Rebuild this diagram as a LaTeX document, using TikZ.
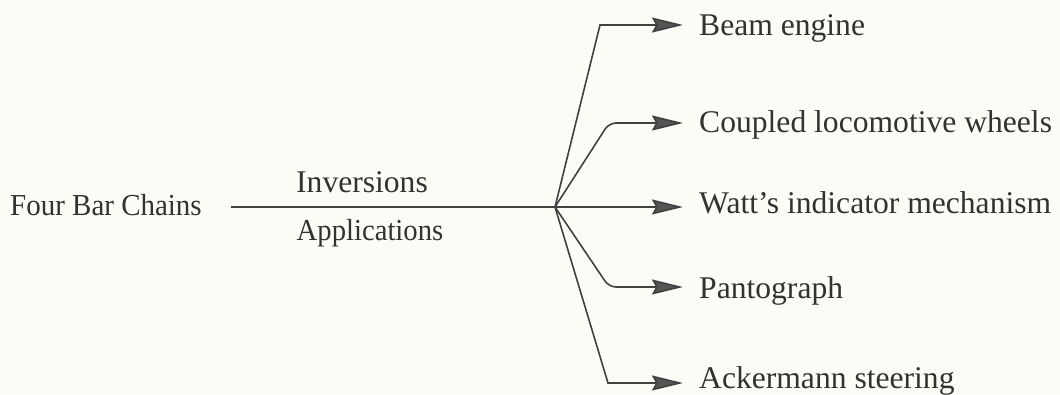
\documentclass[tikz,border=0pt]{standalone}
\usepackage{fontspec}
\setmainfont{Liberation Serif}
\usetikzlibrary{arrows.meta}
\definecolor{paper}{RGB}{252,251,246}
\definecolor{ink}{RGB}{50,50,50}
\definecolor{lineink}{RGB}{65,65,65}
\tikzset{
  lbl/.style={inner sep=0pt, text=ink, font=\fontsize{31.6}{38}\selectfont},
  lblleft/.style={lbl, font=\fontsize{30.5}{36}\selectfont},
  conn/.style={draw=lineink, line width=1.6pt},
  arr/.style={conn, -{Stealth[length=31pt,width=15pt,inset=4pt,fill=lineink!90]}},
}
\begin{document}
\begin{tikzpicture}[x=1pt,y=-1pt]
\fill[paper] (0,0) rectangle (1060,394);
\useasboundingbox (0,0) rectangle (1060,394);

\node[lblleft, anchor=base west] (fb) at (10,215) {\scalebox{0.95}[1]{Four Bar Chains}};
\node[lbl, anchor=base] (inv) at (362,192) {Inversions};
\node[lblleft, anchor=base] (app) at (370,240) {\scalebox{0.94}[1]{Applications}};

\coordinate (start) at (231,207);
\coordinate (hub) at (555,207);

\node[lbl, anchor=base west] (beam) at (699,35) {Beam engine};
\node[lbl, anchor=base west] (coup) at (699,132) {Coupled locomotive wheels};
\node[lbl, anchor=base west] (watt) at (699,213) {Watt’s indicator mechanism};
\node[lbl, anchor=base west] (pant) at (699,298) {Pantograph};
\node[lbl, anchor=base west] (ack) at (699,388) {Ackermann steering};

\coordinate (bBeam) at (600,25);
\coordinate (bCoup) at (609,123);
\coordinate (bPant) at (609,287);
\coordinate (bAck) at (608,383);

\path[conn] (start) -- (hub);
\draw[arr] (hub) -- (bBeam) -- ([xshift=-16pt]bBeam -| beam.west);
\draw[arr, rounded corners=7pt] (hub) -- (bCoup) -- ([xshift=-16pt]bCoup -| coup.west);
\draw[arr] (hub) -- ([xshift=-16pt]hub -| watt.west);
\draw[arr, rounded corners=7pt] (hub) -- (bPant) -- ([xshift=-16pt]bPant -| pant.west);
\draw[arr] (hub) -- (bAck) -- ([xshift=-16pt]bAck -| ack.west);
\end{tikzpicture}
\end{document}
